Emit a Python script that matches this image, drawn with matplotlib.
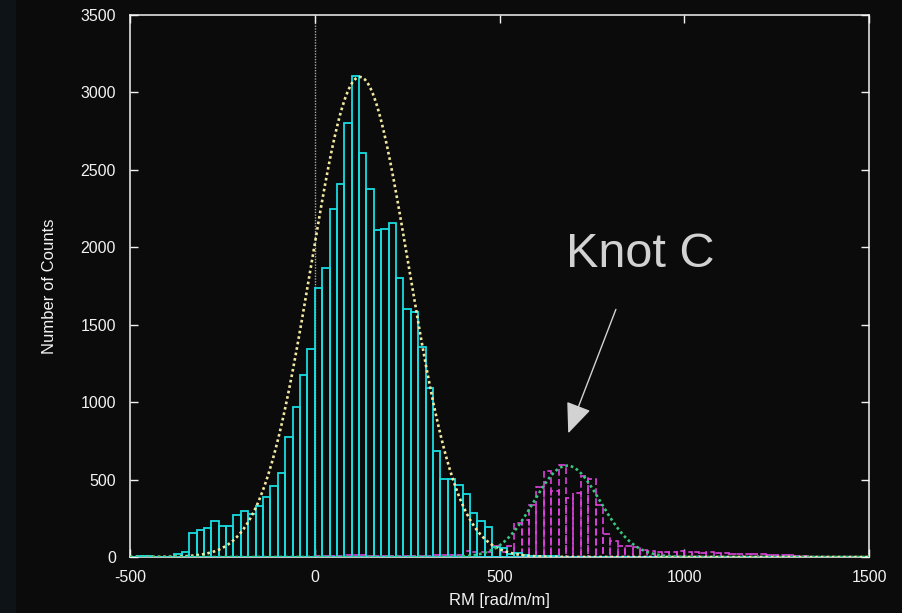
import numpy as np
import matplotlib
matplotlib.use("Agg")
import matplotlib.pyplot as plt
from matplotlib.patches import Rectangle

plt.rcParams["axes.unicode_minus"] = False

# ---------------- data ----------------
bin_width = 20
rm_bins = np.arange(-500, 1500, bin_width)  # left edges of RM bins

cyan_counts = [
    3, 6, 4, 2, 2, 2, 17, 30, 157, 172,            # -500 .. -320
    189, 234, 198, 198, 273, 297, 276, 327, 389, 460,  # -300 .. -120
    540, 777, 966, 1173, 1341, 1737, 1868, 2245, 2406, 2804,  # -100 .. 80
    3107, 2608, 2378, 2111, 2120, 2158, 1803, 1599, 1580, 1358,  # 100 .. 280
    1089, 684, 506, 501, 465, 409, 284, 234, 191, 67,  # 300 .. 480
    60, 19, 28, 11, 8, 6, 5, 4, 3, 3,               # 500 .. 680
    2, 2, 2, 1, 1, 1, 1, 1, 1, 1,                   # 700 .. 880
    0, 0, 0, 0, 0, 0, 0, 0, 0, 0,                   # 900 .. 1080
    0, 0, 0, 0, 0, 0, 0, 0, 0, 0,                   # 1100 .. 1280
    0, 0, 0, 0, 0, 0, 0, 0, 0, 0,                   # 1300 .. 1480
]

magenta_counts = [
    0, 0, 0, 0, 0, 3, 3, 3, 3, 3,                   # -500 .. -320
    3, 3, 3, 3, 3, 3, 3, 3, 3, 3,                   # -300 .. -120
    3, 3, 3, 3, 3, 5, 5, 5, 5, 15,                  # -100 .. 80
    15, 15, 5, 5, 5, 5, 5, 5, 5, 5,                 # 100 .. 280
    8, 10, 13, 15, 10, 40, 30, 30, 35, 70,          # 300 .. 480
    35, 73, 217, 239, 336, 450, 555, 425, 596, 379,  # 500 .. 680
    415, 525, 506, 338, 147, 101, 72, 74, 62, 47,   # 700 .. 880
    40, 35, 35, 33, 36, 30, 30, 25, 30, 25,         # 900 .. 1080
    28, 22, 20, 20, 18, 18, 15, 15, 13, 12,         # 1100 .. 1280
    8, 6, 0, 0, 0, 0, 0, 0, 0, 0,                   # 1300 .. 1480
]

# Gaussian fits: (amplitude, centre, sigma)
main_fit = (3100, 122, 132)
knot_fit = (590, 683, 90)

x_ticks = [-500, 0, 500, 1000, 1500]
y_ticks = [0, 500, 1000, 1500, 2000, 2500, 3000, 3500]

# ---------------- style ----------------
bg = "#0b0b0b"
fg = "#f2f2f2"
cyan = "#18dde0"
magenta = "#dc42dc"
yellow = "#f2e8a0"
green = "#38c77e"
font = "Liberation Sans"

fig = plt.figure(figsize=(9.02, 6.13), dpi=100, facecolor=bg)
fig.patches.append(Rectangle((0, 0), 16 / 902, 1, transform=fig.transFigure,
                             facecolor="#0e1317", edgecolor="none", zorder=-10))
ax = fig.add_axes([130 / 902, 1 - 557 / 613, 739 / 902, 542 / 613])
ax.set_facecolor(bg)

ax.bar(rm_bins, magenta_counts, width=bin_width, align="edge", fill=False,
       edgecolor=magenta, linewidth=1.2, linestyle=(0, (4, 2)), zorder=2)
ax.bar(rm_bins, cyan_counts, width=bin_width, align="edge", fill=False,
       edgecolor=cyan, linewidth=1.3, zorder=3)

xs = np.linspace(-500, 1500, 1200)
for (amp, mu, sig), col in ((main_fit, yellow), (knot_fit, green)):
    ax.plot(xs, amp * np.exp(-0.5 * ((xs - mu) / sig) ** 2), color=col,
            linewidth=1.9, linestyle=(0, (1, 1.1)), dash_capstyle="butt", zorder=4)

ax.axvline(0, color="#a8a8a8", linewidth=1.0, linestyle=(0, (1, 1)), zorder=1)

ax.set_xlim(-500, 1500)
ax.set_ylim(0, 3500)
ax.set_xticks(x_ticks)
ax.set_yticks(y_ticks)
ax.tick_params(direction="in", colors=fg, length=6, width=1,
               top=True, right=True, labelsize=11.5)
ax.tick_params(axis="x", pad=9)
ax.tick_params(axis="y", pad=10)
for lab in ax.get_xticklabels() + ax.get_yticklabels():
    lab.set_fontfamily(font)
for s in ax.spines.values():
    s.set_color(fg)
    s.set_linewidth(1.1)

ax.set_xlabel("RM [rad/m/m]", color=fg, fontsize=12, fontfamily=font)
ax.set_ylabel("Number of Counts", color=fg, fontsize=12, fontfamily=font)
ax.xaxis.set_label_coords(0.5, -0.066)
ax.yaxis.set_label_coords(-0.099, 0.5)

ax.text(880, 1955, "Knot C", color="#d2d2d2", fontsize=35, fontfamily=font,
        ha="center", va="center", zorder=6)
ax.annotate("", xy=(686, 799), xytext=(815, 1599),
            arrowprops=dict(arrowstyle="-|>,head_length=1.9,head_width=0.8",
                            color="#d2d2d2", linewidth=1.0, shrinkA=0, shrinkB=0),
            zorder=6)

fig.savefig("out.png", dpi=100, facecolor=bg)
